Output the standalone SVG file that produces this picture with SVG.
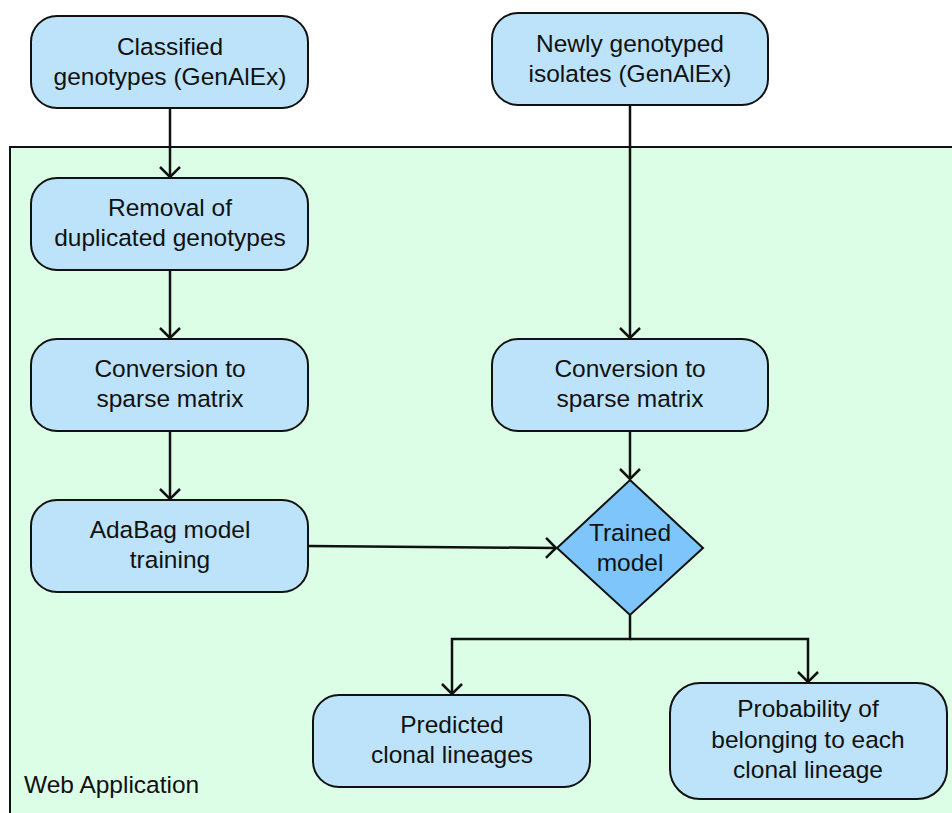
<svg xmlns="http://www.w3.org/2000/svg" width="952" height="813" viewBox="0 0 952 813">
<style>
.box{fill:#bde3fb;stroke:#111;stroke-width:2}
.dia{fill:#7dc5fb;stroke:#111;stroke-width:2}
.t{font-family:"Liberation Sans",Arial,sans-serif;font-size:24.5px;fill:#111;text-anchor:middle}
.e{fill:none;stroke:#111;stroke-width:2.5}
</style>
<defs>
<marker id="arr" markerUnits="userSpaceOnUse" markerWidth="14" markerHeight="22" viewBox="0 0 14 22" refX="12" refY="11" orient="auto">
<path d="M2,1 L12,11 L2,21" fill="none" stroke="#111" stroke-width="2.5"/>
</marker>
</defs>
<rect width="952" height="813" fill="#fff"/>
<g id="container">
<rect x="10" y="147" width="950" height="680" fill="#dcfde6" stroke="#111" stroke-width="2"/>
<text x="24" y="793" class="t" style="text-anchor:start">Web Application</text>
</g>
<g id="connectors">
<path class="e" d="M170,108 V177" marker-end="url(#arr)"/>
<path class="e" d="M170,270 V338" marker-end="url(#arr)"/>
<path class="e" d="M170,431 V499" marker-end="url(#arr)"/>
<path class="e" d="M630,105 V338" marker-end="url(#arr)"/>
<path class="e" d="M630,431 V479" marker-end="url(#arr)"/>
<path class="e" d="M308,546 L556,548" marker-end="url(#arr)"/>
<path class="e" d="M630,615 V639 H452 V694" marker-end="url(#arr)"/>
<path class="e" d="M630,639 H808 V682" marker-end="url(#arr)"/>
</g>
<g id="classified">
<rect class="box" x="31" y="16" width="277" height="92" rx="26"/>
<text class="t" x="170" y="55">Classified</text>
<text class="t" x="170" y="85">genotypes (GenAlEx)</text>
</g>
<g id="newly">
<rect class="box" x="492" y="13" width="276" height="92" rx="26"/>
<text class="t" x="630" y="52">Newly genotyped</text>
<text class="t" x="630" y="82">isolates (GenAlEx)</text>
</g>
<g id="removal">
<rect class="box" x="31" y="178" width="277" height="92" rx="26"/>
<text class="t" x="170" y="216">Removal of</text>
<text class="t" x="170" y="246">duplicated genotypes</text>
</g>
<g id="conv-left">
<rect class="box" x="31" y="339" width="277" height="92" rx="26"/>
<text class="t" x="170" y="377">Conversion to</text>
<text class="t" x="170" y="407">sparse matrix</text>
</g>
<g id="conv-right">
<rect class="box" x="492" y="339" width="276" height="92" rx="26"/>
<text class="t" x="630" y="377">Conversion to</text>
<text class="t" x="630" y="407">sparse matrix</text>
</g>
<g id="adabag">
<rect class="box" x="31" y="500" width="277" height="92" rx="26"/>
<text class="t" x="170" y="538">AdaBag model</text>
<text class="t" x="170" y="568">training</text>
</g>
<g id="trained">
<polygon class="dia" points="630,480 703,548 630,615 557,548"/>
<text class="t" x="630" y="541">Trained</text>
<text class="t" x="630" y="571">model</text>
</g>
<g id="predicted">
<rect class="box" x="313" y="695" width="277" height="92" rx="26"/>
<text class="t" x="452" y="733">Predicted</text>
<text class="t" x="452" y="763">clonal lineages</text>
</g>
<g id="probability">
<rect class="box" x="670" y="683" width="277" height="116" rx="30"/>
<text class="t" x="808" y="717">Probability of</text>
<text class="t" x="808" y="748">belonging to each</text>
<text class="t" x="808" y="778">clonal lineage</text>
</g>
</svg>
